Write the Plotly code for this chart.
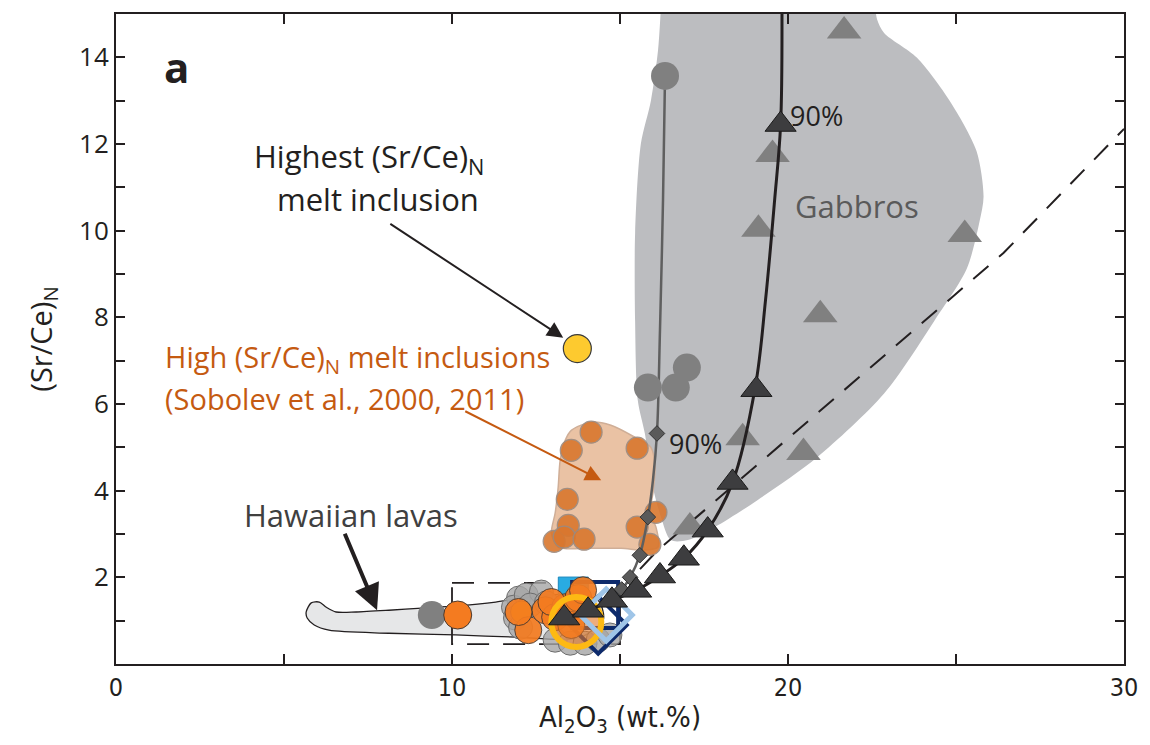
import plotly.graph_objects as go

# ---- data -----------------------------------------------------------------
# Gabbro field outline (Al2O3, Sr/Ce_N)
gabbro_x = [16.22, 16.13, 15.92, 15.62, 15.45, 15.45, 15.53, 15.74, 15.98, 16.22, 16.51, 17.02,
            17.82, 19.09, 20.87, 22.86, 24.34, 25.32, 25.70, 25.82, 25.61, 24.81, 23.84, 22.86,
            22.65, 22.59]
gabbro_y = [15.2, 14.15, 13.0, 12.0, 9.95, 7.90, 6.08, 5.32, 4.08, 3.39, 2.86, 2.86,
            3.16, 3.78, 4.77, 6.24, 7.90, 9.12, 10.21, 10.78, 11.84, 13.0, 13.99, 14.56,
            14.88, 15.2]

# Hawaiian lava field outline
lava_x = [5.66, 5.81, 6.05, 6.26, 6.55, 7.15, 8.12, 9.10, 10.11, 11.30, 12.27, 13.46, 14.35,
          14.50, 13.76, 11.89, 10.11, 8.12, 6.34, 5.90, 5.69, 5.66]
lava_y = [1.20, 1.41, 1.43, 1.31, 1.20, 1.20, 1.24, 1.29, 1.34, 1.43, 1.54, 1.61, 1.47,
          1.01, 0.60, 0.62, 0.67, 0.71, 0.78, 0.90, 1.06, 1.20]

# High (Sr/Ce)_N melt inclusion field outline
hmi_field_x = [13.55, 14.14, 14.73, 15.45, 15.92, 16.04, 15.98, 15.89, 16.07, 16.13, 15.74,
               15.03, 14.05, 13.16, 12.96, 13.07, 13.16, 13.22, 13.37, 13.55]
hmi_field_y = [5.39, 5.58, 5.51, 5.23, 5.00, 4.54, 3.94, 3.48, 3.16, 2.70, 2.63,
               2.67, 2.67, 2.70, 3.02, 3.48, 4.08, 4.70, 5.16, 5.39]

# High (Sr/Ce)_N melt inclusions (Sobolev et al.)
hmi_x = [14.14, 13.55, 15.51, 13.43, 13.46, 13.04, 13.34, 13.93, 15.51, 16.07, 15.89]
hmi_y = [5.35, 4.93, 4.98, 3.80, 3.20, 2.83, 2.93, 2.88, 3.16, 3.50, 2.76]

# Highest (Sr/Ce)_N melt inclusion
top_mi_x = [13.73]
top_mi_y = [7.28]

# Gabbro samples
gab_x = [21.67, 19.54, 19.12, 20.96, 25.26, 18.65, 20.46, 17.08]
gab_y = [14.61, 11.76, 10.03, 8.06, 9.91, 5.22, 4.88, 3.16]

# Gray model curve and its markers
gcurve_x = [14.6, 14.94, 15.30, 15.59, 15.83, 15.98, 16.10, 16.19, 16.28, 16.34]
gcurve_y = [1.35, 1.59, 2.00, 2.51, 3.39, 4.24, 5.32, 7.7, 10.7, 13.57]
gdiam_x = [15.05, 15.30, 15.59, 15.83, 16.10]
gdiam_y = [1.72, 2.00, 2.51, 3.39, 5.32]
gcirc_x = [16.34, 15.83, 16.66, 16.99]
gcirc_y = [13.57, 6.38, 6.38, 6.84]

# Black model curve with triangles
bcurve_x = [13.34, 14.05, 14.76, 15.48, 16.19, 16.90, 17.61, 18.35, 19.03, 19.33, 19.60, 19.78, 19.82]
bcurve_y = [1.06, 1.24, 1.47, 1.70, 2.03, 2.44, 3.09, 4.19, 6.41, 8.39, 10.69, 12.45, 15.3]
btri_x = [13.34, 14.05, 14.76, 15.48, 16.19, 16.90, 17.61, 18.35, 19.06, 19.78]
btri_y = [1.06, 1.24, 1.47, 1.70, 2.03, 2.44, 3.09, 4.19, 6.33, 12.45]

# Dashed trend
dash_x = [14.9, 16.13, 17.76, 26.42, 30.0]
dash_y = [1.62, 2.63, 3.71, 9.49, 12.35]

# Dashed box around Hawaiian lava cluster
box_x = [10.0, 15.0, 15.0, 10.0, 10.0]
box_y = [1.87, 1.87, 0.46, 0.46, 1.87]

# Hawaiian lavas: single gray and orange samples at low Al2O3
lone_gray_x = [9.40]
lone_gray_y = [1.13]
lone_orange_x = [10.17]
lone_orange_y = [1.13]

# Hawaiian lava cluster
haw_gray_x = [11.98, 11.83, 11.89, 12.21, 12.66, 13.07, 13.52, 13.96, 12.33, 12.04, 12.81, 14.35, 14.70]
haw_gray_y = [1.52, 1.31, 1.06, 1.59, 1.66, 0.55, 0.48, 0.48, 1.36, 0.85, 1.41, 0.55, 0.67]
haw_orange_x = [12.27, 12.78, 13.07, 13.37, 12.96, 13.76, 13.55, 13.90, 11.98]
haw_orange_y = [0.78, 1.24, 1.08, 1.31, 1.43, 1.52, 0.90, 1.70, 1.20]
haw_yellow_x = [12.07]
haw_yellow_y = [1.20]
ring_x = [13.70]
ring_y = [0.97]
cyan_x = [13.61]
cyan_y = [1.66]
navy_sq_x = [14.26]
navy_sq_y = [1.36]
navy_dm_x = [14.35]
navy_dm_y = [0.90]
lblue_x = [14.59]
lblue_y = [1.13]

x_ticks = [0, 5, 10, 15, 20, 25, 30]
x_labels = ["0", "", "10", "", "20", "", "30"]
y_ticks = list(range(0, 16))
y_labels = [str(v) if v % 2 == 0 and v > 0 else "" for v in y_ticks]

# ---- figure ---------------------------------------------------------------
fig = go.Figure()

def poly(x, y, fill, line_color, line_width):
    fig.add_trace(go.Scatter(x=x, y=y, mode="lines", fill="toself", fillcolor=fill,
                             line=dict(color=line_color, width=line_width, shape="spline", smoothing=0.8),
                             hoverinfo="skip", showlegend=False))

poly(gabbro_x, gabbro_y, "#bcbdc0", "rgba(0,0,0,0)", 0)
poly(lava_x, lava_y, "#e6e7e8", "#231f20", 1.3)
poly(hmi_field_x, hmi_field_y, "#eac2a4", "#cfae97", 1.5)

def pts(x, y, symbol, size, color, line_color="rgba(0,0,0,0)", line_width=0, opacity=1.0):
    fig.add_trace(go.Scatter(x=x, y=y, mode="markers", showlegend=False,
                             marker=dict(symbol=symbol, size=size, color=color, opacity=opacity,
                                         line=dict(color=line_color, width=line_width))))

# dashed trend and box
fig.add_trace(go.Scatter(x=dash_x, y=dash_y, mode="lines", showlegend=False,
                         line=dict(color="#231f20", width=2, dash="20px,14px")))
fig.add_trace(go.Scatter(x=box_x, y=box_y, mode="lines", showlegend=False,
                         line=dict(color="#231f20", width=1.8, dash="22px,14px")))

# gabbro samples
pts(gab_x, gab_y, "triangle-up", 30, "#808080")

# high Sr/Ce melt inclusions
pts(hmi_x, hmi_y, "circle", 22, "#d9772e", "#9a8a80", 1.2, 0.9)

# Hawaiian lavas
pts(lone_gray_x, lone_gray_y, "circle", 28, "#808080")
pts(lone_orange_x, lone_orange_y, "circle", 28, "#f47b20", "#4a3a30", 1)
pts(cyan_x, cyan_y, "square", 30, "#29abe2", "#1b88bd", 1)
pts(haw_gray_x, haw_gray_y, "circle", 24, "rgba(165,165,165,0.8)", "#6d6d6d", 1)
pts(navy_sq_x, navy_sq_y, "square-open", 46, "#0d2a6b", "#0d2a6b", 4)
pts(navy_dm_x, navy_dm_y, "diamond-open", 44, "#0d2a6b", "#0d2a6b", 4)
pts(haw_yellow_x, haw_yellow_y, "circle", 22, "#fdb913", "#555555", 1)
pts(haw_orange_x, haw_orange_y, "circle", 27, "#f47b20", "#4a3a30", 1, 0.92)
pts(ring_x, ring_y, "circle", 50, "rgba(244,123,32,0.55)", "#fdb913", 6)
pts(lblue_x, lblue_y, "diamond-open", 40, "#9fc5e8", "#9fc5e8", 5)

# gray model curve
fig.add_trace(go.Scatter(x=gcurve_x, y=gcurve_y, mode="lines", showlegend=False,
                         line=dict(color="#5f5f5f", width=2.5, shape="spline")))
pts(gdiam_x, gdiam_y, "diamond", 12, "#5a5a5a", "#333333", 1)
pts(gcirc_x, gcirc_y, "circle", 28, "#808080")

# black model curve
fig.add_trace(go.Scatter(x=bcurve_x, y=bcurve_y, mode="lines", showlegend=False,
                         line=dict(color="#231f20", width=3, shape="spline")))
pts(btri_x, btri_y, "triangle-up", 27, "#3d3d3f", "#1a1a1a", 1)

# highest melt inclusion
pts(top_mi_x, top_mi_y, "circle", 28, "#fdca2f", "#3a3a3a", 1.2)

# ---- annotations ----------------------------------------------------------
txt = "#231f20"
ann = [
    dict(x=1.8, y=13.8, text="<b>a</b>", font=dict(size=42, color=txt), showarrow=False),
    dict(x=7.53, y=11.68, text="Highest (Sr/Ce)<sub>N</sub>", font=dict(size=31, color=txt), showarrow=False),
    dict(x=7.8, y=10.74, text="melt inclusion", font=dict(size=31, color=txt), showarrow=False),
    dict(x=1.39, y=7.05, text="High (Sr/Ce)<sub>N</sub> melt inclusions", xanchor="left",
         font=dict(size=29, color="#c55a11"), showarrow=False),
    dict(x=1.39, y=6.13, text="(Sobolev et al., 2000, 2011)", xanchor="left",
         font=dict(size=29, color="#c55a11"), showarrow=False),
    dict(x=6.99, y=3.44, text="Hawaiian lavas", font=dict(size=31, color="#404040"), showarrow=False),
    dict(x=22.05, y=10.57, text="Gabbros", font=dict(size=31, color="#5a5a5a"), showarrow=False),
    dict(x=20.0, y=12.65, text="90%", xanchor="left", font=dict(size=27, color=txt), showarrow=False),
    dict(x=16.4, y=5.1, text="90%", xanchor="left", font=dict(size=27, color=txt), showarrow=False),
    # arrows
    dict(x=13.31, y=7.53, ax=8.12, ay=10.18, axref="x", ayref="y", text="", showarrow=True,
         arrowhead=2, arrowsize=1.6, arrowwidth=2, arrowcolor=txt),
    dict(x=14.44, y=4.24, ax=10.35, ay=5.85, axref="x", ayref="y", text="", showarrow=True,
         arrowhead=2, arrowsize=1.6, arrowwidth=2, arrowcolor="#c55a11"),
    dict(x=7.77, y=1.24, ax=6.79, ay=3.04, axref="x", ayref="y", text="", showarrow=True,
         arrowhead=2, arrowsize=1.3, arrowwidth=4, arrowcolor=txt),
]
for a in ann:
    a.setdefault("xref", "x")
    a.setdefault("yref", "y")
fig.update_layout(annotations=ann)

narrow = "DejaVu Sans Condensed, Liberation Sans Narrow, Arial Narrow, Open Sans, sans-serif"
fig.update_layout(
    width=1150, height=745,
    margin=dict(l=116, r=22, t=13, b=81),
    paper_bgcolor="white", plot_bgcolor="white",
    font=dict(family="Open Sans, sans-serif", color=txt),
    showlegend=False,
    xaxis=dict(range=[0, 30], tickvals=x_ticks, ticktext=x_labels, ticks="inside", ticklen=10,
               tickwidth=1.5, tickcolor=txt, showline=True, linecolor=txt, linewidth=2,
               mirror="ticks", showgrid=False, zeroline=False,
               tickfont=dict(family=narrow, size=25),
               title=dict(text="Al<sub>2</sub>O<sub>3</sub> (wt.%)", standoff=6,
                          font=dict(family=narrow, size=29))),
    yaxis=dict(range=[0, 15], tickvals=y_ticks, ticktext=y_labels, ticks="inside", ticklen=9,
               tickwidth=1.5, tickcolor=txt, showline=True, linecolor=txt, linewidth=2,
               mirror="ticks", showgrid=False, zeroline=False,
               tickfont=dict(family="Open Sans, sans-serif", size=26),
               title=dict(text="(Sr/Ce)<sub>N</sub>", standoff=18, font=dict(size=29))),
)

fig.write_html("out.html")
